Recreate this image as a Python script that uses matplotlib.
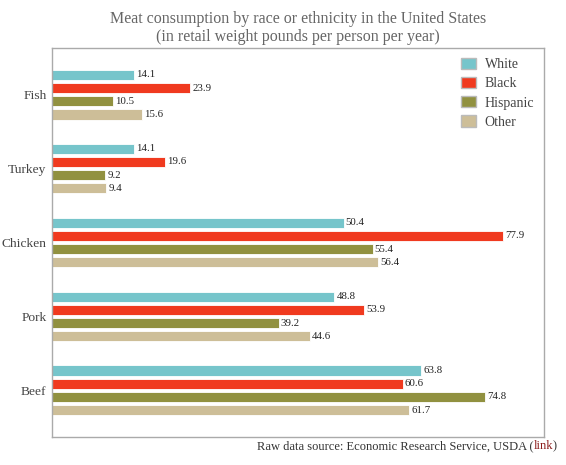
import numpy as np
import matplotlib
matplotlib.use("Agg")
import matplotlib.pyplot as plt
from matplotlib.patches import Patch

plt.rcParams['font.family'] = ['Liberation Serif', 'DejaVu Serif']

categories = ["Beef", "Pork", "Chicken", "Turkey", "Fish"]
series = ["White", "Black", "Hispanic", "Other"]
white = [63.8, 48.8, 50.4, 14.1, 14.1]
black = [60.6, 53.9, 77.9, 19.6, 23.9]
hispanic = [74.8, 39.2, 55.4, 9.2, 10.5]
other = [61.7, 44.6, 56.4, 9.4, 15.6]
colors = ["#76c5cb", "#f03a1f", "#919140", "#cdbe98"]

fig = plt.figure(figsize=(5.66, 4.65), dpi=100)
ax = fig.add_axes([52/566, 1 - 437/465, 492/566, 389/465])

y = np.arange(len(categories))
step = 0.178
h = 0.14
for i, (vals, c) in enumerate(zip([white, black, hispanic, other], colors)):
    off = (1.5 - i) * step
    ax.barh(y + off, vals, height=h, color=c, edgecolor="white", linewidth=0.6)
    for yy, v in zip(y, vals):
        ax.text(v + 0.35, yy + off, f"{v}", va="center", ha="left",
                fontsize=7.8, color="#222222")

ax.set_xlim(0, 85)
ax.set_ylim(-0.63, 4.63)
ax.set_xticks([])
ax.set_yticks(y)
ax.set_yticklabels(categories, fontsize=9.7, color="#444444")
ax.tick_params(axis="y", length=0, pad=4)
for s in ax.spines.values():
    s.set_color("#aaaaaa")
    s.set_linewidth(1)

handles = [Patch(facecolor=c, edgecolor="#bbbbbb", label=s) for c, s in zip(colors, series)]
leg = ax.legend(handles=handles, loc="upper right", frameon=False, fontsize=10,
                handlelength=1.1, handleheight=0.9, labelspacing=0.4,
                borderaxespad=0.3, handletextpad=0.6)
for t in leg.get_texts():
    t.set_color("#444444")

fig.text(298/566, 1 - 28/465, "Meat consumption by race or ethnicity in the United States\n(in retail weight pounds per person per year)",
         ha="center", va="center", fontsize=11.5, color="#666666", linespacing=1.1)

t1 = fig.text(257/566, 1 - 446/465, "Raw data source: Economic Research Service, USDA (",
              ha="left", va="center", fontsize=9, color="#333333")
t2 = ax.annotate("link", xy=(1, 0), xycoords=t1, ha="left", va="bottom",
                 fontsize=9, color="#8b1a1a", annotation_clip=False)
ax.annotate(")", xy=(1, 0), xycoords=t2, ha="left", va="bottom",
            fontsize=9, color="#333333", annotation_clip=False)

fig.savefig("out.png", dpi=100)
